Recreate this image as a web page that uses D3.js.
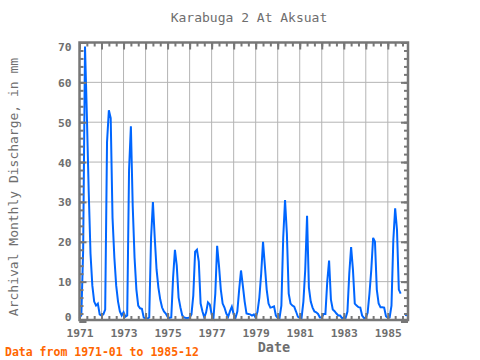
<!DOCTYPE html>
<html><head><meta charset="utf-8">
<script src="https://cdn.jsdelivr.net/npm/d3@7"></script>
<style>body{margin:0;background:#fff}svg{display:block}</style>
</head><body>
<svg id="chart" width="480" height="360"></svg>
<script>
// ---- data (monthly discharge, mm), Jan..Dec ----
const startYear = 1971;
const q1971 = [0.9, 1.6, 18, 69, 52, 33, 17, 9, 5, 4, 4.5, 1.8];
const q1972 = [1.5, 1.8, 3, 45, 53, 51, 26, 16, 9, 5, 2.5, 1.5];
const q1973 = [2.3, 1.2, 1.5, 38, 49, 29, 16, 8, 4, 3.3, 3.2, 1.0];
const q1974 = [0.8, 0.7, 1.0, 21, 30, 21, 13, 8.5, 5.5, 3.5, 2.5, 2.0];
const q1975 = [1.2, 0.9, 1.0, 11, 18, 14, 6, 3.5, 1.5, 1.0, 0.9, 0.9];
const q1976 = [1.0, 1.8, 6.5, 17.5, 18, 15, 4.5, 2.5, 1.0, 2.3, 4.8, 4.3];
const q1977 = [1.8, 0.9, 7, 19, 14, 8, 4.5, 3.5, 2, 1.2, 2.6, 3.7];
const q1978 = [1.8, 0.9, 2.5, 8, 12.8, 9, 5, 2, 1.9, 1.8, 1.5, 1.8];
const q1979 = [0.9, 2.5, 6, 12, 20, 14, 8, 4.5, 3.5, 3.6, 3.8, 1.5];
const q1980 = [0.9, 0.9, 4, 21, 30.5, 22, 7, 4.5, 4, 3.7, 2.5, 1.2];
const q1981 = [0.9, 0.9, 5, 13, 26.5, 8.5, 5, 3.5, 2.5, 2.3, 1.9, 1.0];
const q1982 = [1.0, 1.9, 1.9, 10, 15.3, 5.5, 3, 2.6, 2, 1.5, 1.5, 0.9];
const q1983 = [0.9, 0.9, 2.5, 12, 18.7, 13, 4.5, 4, 3.6, 3.5, 1.5, 0.9];
const q1984 = [0.9, 2.2, 7, 13, 21, 20, 8, 4.5, 3.6, 3.6, 3.5, 1.3];
const q1985 = [0.9, 1.0, 4, 20.4, 28.4, 23, 8, 7, null, null, 1.75, null];

const xLabelYears = [1971, 1973, 1975, 1977, 1979, 1981, 1983, 1985];
const yTickValues = [0, 10, 20, 30, 40, 50, 60, 70];
const titleText = "Karabuga 2 At Aksuat";
const yTitle = "Archival Monthly Discharge, in mm";
const xTitle = "Date";
const footText = "Data from 1971-01 to 1985-12";

// ---- build ----
const values = [].concat(q1971,q1972,q1973,q1974,q1975,q1976,q1977,q1978,
                         q1979,q1980,q1981,q1982,q1983,q1984,q1985);
const data = values.map((v,i)=>({t: startYear + i/12, v: v}));

const svg = d3.select('#chart');
const L = 79.5, R = 408, T = 42.5, B = 321.5, FB = 320;
const frameCol = '#777777', gridCol = '#b4b4b4', textCol = '#6e6e6e';
const font = "'DejaVu Sans Mono', monospace";

const x = d3.scaleLinear().domain([startYear, startYear + (values.length-1)/12]).range([L, R]);
const y = d3.scaleLinear().domain([0, 70]).range([B, T]);

const allYears = d3.range(1971, 1986);
// grid
svg.append('g').selectAll('line').data(allYears.slice(1)).join('line')
  .attr('x1', d=>x(d)).attr('x2', d=>x(d)).attr('y1', T).attr('y2', FB)
  .attr('stroke', gridCol).attr('stroke-width', 1);
svg.append('g').selectAll('line').data(yTickValues.slice(1, -1)).join('line')
  .attr('y1', d=>y(d)).attr('y2', d=>y(d)).attr('x1', L).attr('x2', R)
  .attr('stroke', gridCol).attr('stroke-width', 1);

// data line
const clipId = 'plotclip';
svg.append('clipPath').attr('id', clipId).append('rect')
  .attr('x', L).attr('y', T).attr('width', R-L).attr('height', FB-T);
const line = d3.line().defined(d=>d.v!=null).x(d=>x(d.t)).y(d=>y(d.v));
svg.append('path').datum(data).attr('d', line)
  .attr('fill','none').attr('stroke','#0066ff').attr('stroke-width',2)
  .attr('stroke-linejoin','miter');
const isolated = data.filter((d,i)=> d.v!=null &&
  (i===0 || data[i-1].v==null) && (i===data.length-1 || data[i+1].v==null));
svg.append('g').selectAll('circle').data(isolated).join('circle')
  .attr('cx', d=>x(d.t)).attr('cy', d=>y(d.v)).attr('r', 1.6).attr('fill','#0066ff');

// frame
svg.append('rect').attr('x', L).attr('y', T).attr('width', R-L).attr('height', FB-T)
  .attr('fill','none').attr('stroke', frameCol).attr('stroke-width', 2.5);

// ticks (inward) via d3 axes
function tickAxis(axisFn, scale, vals, size, tr){
  const g = svg.append('g').attr('transform', tr)
    .call(axisFn(scale).tickValues(vals).tickSize(size).tickFormat(''));
  g.select('.domain').remove();
  g.selectAll('line').attr('stroke', frameCol).attr('stroke-width', 2);
}
const minorX = d3.range(0, values.length, 4).map(i=>startYear + i/12);
const minorY = d3.range(0, 71, 2);
tickAxis(d3.axisBottom, x, minorX, -4, `translate(0,${FB})`);
tickAxis(d3.axisTop, x, minorX, -4, `translate(0,${T})`);
tickAxis(d3.axisBottom, x, allYears, -7, `translate(0,${FB})`);
tickAxis(d3.axisTop, x, allYears, -7, `translate(0,${T})`);
tickAxis(d3.axisLeft, y, minorY, -4, `translate(${L},0)`);
tickAxis(d3.axisRight, y, minorY, -4, `translate(${R},0)`);
tickAxis(d3.axisLeft, y, yTickValues, -7, `translate(${L},0)`);
tickAxis(d3.axisRight, y, yTickValues, -7, `translate(${R},0)`);

// tick labels
const xl = svg.append('g').attr('transform', `translate(0,${FB})`)
  .call(d3.axisBottom(x).tickValues(xLabelYears).tickSize(0).tickFormat(d3.format('d')));
xl.select('.domain').remove();
xl.selectAll('text').attr('y', 17).attr('dy', 0)
  .attr('fill', textCol).style('font-family', font).style('font-size','11.3px').style('font-weight','bold');

const yl = svg.append('g').attr('transform', `translate(${L},0)`)
  .call(d3.axisLeft(y).tickValues(yTickValues).tickSize(0).tickPadding(8));
yl.select('.domain').remove();
yl.selectAll('text').attr('fill', textCol).style('font-family', font)
  .style('font-size','11.3px').style('font-weight','bold')
  .attr('dy', d => d===70 ? '0.75em' : (d===0 ? '-0.1em' : '0.35em'));

// titles
svg.append('text').attr('x', 249).attr('y', 22).attr('text-anchor','middle')
  .attr('fill', textCol).style('font-family', font).style('font-size','13px')
  .text(titleText);
svg.append('text').attr('transform','translate(18,187) rotate(-90)').attr('text-anchor','middle')
  .attr('fill', textCol).style('font-family', font).style('font-size','13px')
  .text(yTitle);
svg.append('text').attr('x', 274).attr('y', 352).attr('text-anchor','middle')
  .attr('fill', textCol).style('font-family', font).style('font-size','13.5px').style('font-weight','bold')
  .text(xTitle);
svg.append('text').attr('x', 5).attr('y', 356)
  .attr('fill', '#ff6600').style('font-family', font).style('font-size','11.5px').style('font-weight','bold')
  .text(footText);
</script>
</body></html>
